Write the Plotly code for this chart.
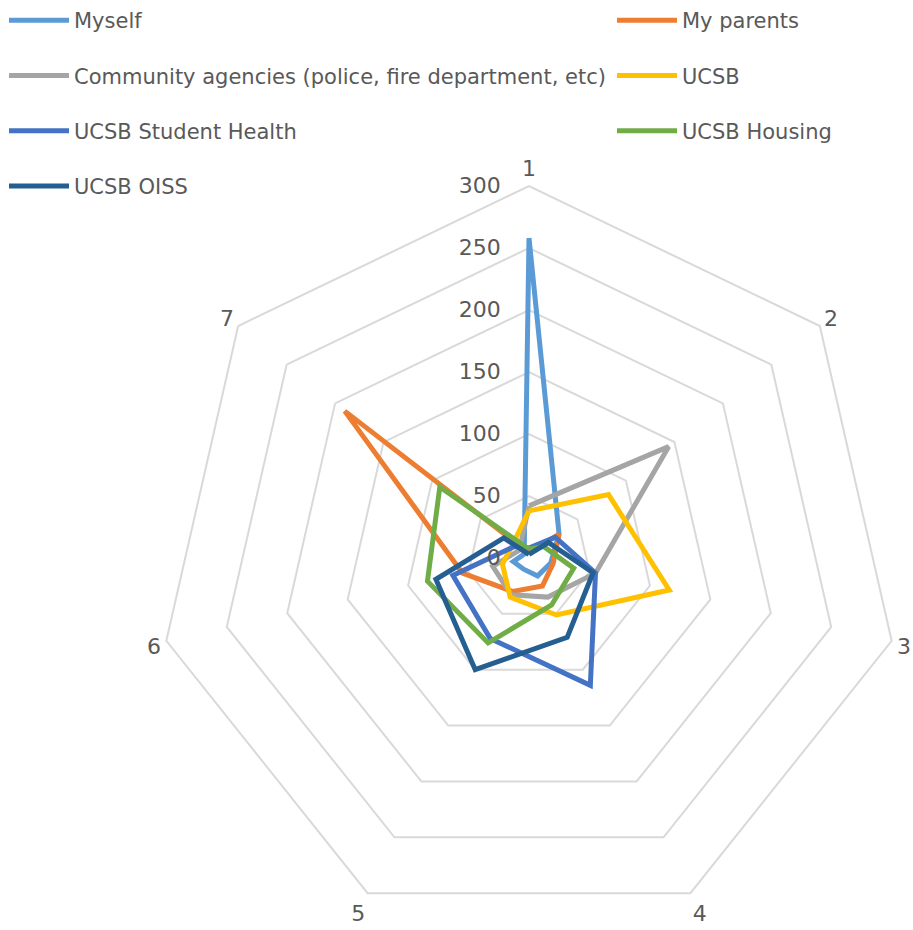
import plotly.graph_objects as go

# Spoke labels
categories = ["1", "2", "3", "4", "5", "6", "7"]

# Counts per spoke for each source of help
myself = [258, 31, 18, 16, 10, 13, 5]
my_parents = [4, 31, 20, 25, 30, 55, 190]
community = [42, 144, 55, 35, 33, 30, 10]
ucsb = [38, 82, 116, 51, 35, 22, 17]
student_health = [8, 27, 55, 114, 72, 63, 15]
housing = [7, 15, 37, 42, 76, 84, 92]
oiss = [3, 20, 53, 71, 100, 77, 26]

radial_ticks = [0, 50, 100, 150, 200, 250, 300]

series = [
    ("Myself", myself, "#5B9BD5", "legend"),
    ("My parents", my_parents, "#ED7D31", "legend2"),
    ("Community agencies (police, fire department, etc)", community, "#A5A5A5", "legend"),
    ("UCSB", ucsb, "#FFC000", "legend2"),
    ("UCSB Student Health", student_health, "#4472C4", "legend"),
    ("UCSB Housing", housing, "#70AD47", "legend2"),
    ("UCSB OISS", oiss, "#255E91", "legend"),
]

W, H = 913, 930
FONT = "DejaVu Sans"
TXT = "#595959"
GRID = "#D9D9D9"

fig = go.Figure()
for name, vals, color, leg in series:
    fig.add_trace(go.Scatterpolar(
        r=vals + vals[:1],
        theta=categories + categories[:1],
        mode="lines",
        name=name,
        legend=leg,
        legendgroup=name,
        line=dict(color=color, width=5),
        hoverinfo="name+r+theta",
    ))

# polar area: centre and radius in pixels
cx, cy, R = 529, 558, 372
fig.update_layout(
    width=W, height=H,
    margin=dict(l=0, r=0, t=0, b=0),
    paper_bgcolor="white",
    plot_bgcolor="white",
    font=dict(family=FONT, color=TXT, size=21),
    polar=dict(
        domain=dict(x=[(cx - R) / W, (cx + R) / W],
                    y=[(H - (cy + R)) / H, (H - (cy - R)) / H]),
        bgcolor="white",
        gridshape="linear",
        radialaxis=dict(
            range=[0, 300],
            tickvals=radial_ticks,
            angle=90,
            side="counterclockwise",
            showline=False,
            ticks="outside",
            ticklen=20,
            tickcolor="rgba(0,0,0,0)",
            gridcolor=GRID,
            gridwidth=2,
            tickfont=dict(family=FONT, size=22, color=TXT),
            tickangle=90,
        ),
        angularaxis=dict(
            type="category",
            categoryarray=categories,
            rotation=90,
            direction="clockwise",
            showgrid=False,
            showline=True,
            linecolor=GRID,
            linewidth=2,
            ticks="",
            tickfont=dict(family=FONT, size=22, color=TXT),
        ),
    ),
    legend=dict(
        x=4 / W, y=1.0, xanchor="left", yanchor="top",
        orientation="v", tracegroupgap=25, itemwidth=60,
        font=dict(family=FONT, size=21, color=TXT),
        bgcolor="rgba(0,0,0,0)",
    ),
    legend2=dict(
        x=612 / W, y=1.0, xanchor="left", yanchor="top",
        orientation="v", tracegroupgap=25, itemwidth=60,
        font=dict(family=FONT, size=21, color=TXT),
        bgcolor="rgba(0,0,0,0)",
    ),
)

fig.write_html("out.html")
